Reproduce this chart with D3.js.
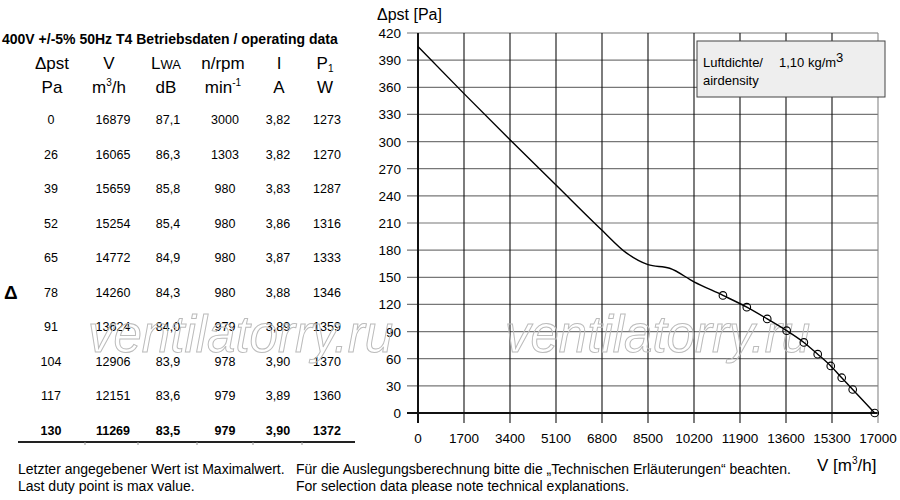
<!DOCTYPE html>
<html lang="de">
<head>
<meta charset="UTF-8">
<title>Kennlinie</title>
<script src="https://cdn.jsdelivr.net/npm/d3@7"></script>
<style>
  html, body { margin: 0; padding: 0; background: #fff; }
  svg { display: block; font-family: "Liberation Sans", Arial, sans-serif; }
</style>
</head>
<body>
<svg id="chart" width="900" height="500"></svg>
<script>
// Betriebsdaten (Tabelle)
const pst = [0, 26, 39, 52, 65, 78, 91, 104, 117, 130];
const volume = [16879, 16065, 15659, 15254, 14772, 14260, 13624, 12906, 12151, 11269];
const lwa = [87.1, 86.3, 85.8, 85.4, 84.9, 84.3, 84.0, 83.9, 83.6, 83.5];
const rpm = [3000, 1303, 980, 980, 980, 980, 979, 978, 979, 979];
const current = [3.82, 3.82, 3.83, 3.86, 3.87, 3.88, 3.89, 3.90, 3.89, 3.90];
const power = [1273, 1270, 1287, 1316, 1333, 1346, 1359, 1370, 1360, 1372];

// Kennlinie oberhalb des letzten Betriebspunktes
const curveV = [0, 1700, 3400, 5100, 6800, 7700, 8500, 9300, 10200];
const curveP = [405, 353, 302, 252, 202, 177, 164, 160, 145];

// Achsen
const xTicks = [0, 1700, 3400, 5100, 6800, 8500, 10200, 11900, 13600, 15300, 17000];
const yTicks = [0, 30, 60, 90, 120, 150, 180, 210, 240, 270, 300, 330, 360, 390, 420];

const svg = d3.select('#chart');
const comma = v => String(v).replace('.', ',');

// ---------- Tabelle ----------
const headX = [52, 109, 166, 223, 279, 325];
const colX = [51, 113, 168, 225, 278, 327];

svg.append('text')
  .attr('x', 2).attr('y', 44)
  .style('font-size', '14px').style('font-weight', 'bold')
  .text('400V +/-5% 50Hz T4 Betriebsdaten / operating data');

const h1 = svg.append('g').style('font-size', '17px').attr('text-anchor', 'middle');
h1.append('text').attr('x', headX[0]).attr('y', 69).text('Δpst');
h1.append('text').attr('x', headX[1]).attr('y', 69).text('V');
const lw = h1.append('text').attr('x', headX[2]).attr('y', 69);
lw.append('tspan').text('L');
lw.append('tspan').style('font-size', '13px').text('WA');
h1.append('text').attr('x', headX[3]).attr('y', 69).text('n/rpm');
h1.append('text').attr('x', headX[4]).attr('y', 69).text('I');
const p1 = h1.append('text').attr('x', headX[5]).attr('y', 69);
p1.append('tspan').text('P');
p1.append('tspan').style('font-size', '10px').attr('dy', 3).text('1');

h1.append('text').attr('x', headX[0]).attr('y', 93).text('Pa');
const m3 = h1.append('text').attr('x', headX[1]).attr('y', 93);
m3.append('tspan').text('m');
m3.append('tspan').style('font-size', '10px').attr('dy', -7).text('3');
m3.append('tspan').attr('dy', 7).text('/h');
h1.append('text').attr('x', headX[2]).attr('y', 93).text('dB');
const mn = h1.append('text').attr('x', headX[3]).attr('y', 93);
mn.append('tspan').text('min');
mn.append('tspan').style('font-size', '10px').attr('dy', -7).text('-1');
h1.append('text').attr('x', headX[4]).attr('y', 93).text('A');
h1.append('text').attr('x', headX[5]).attr('y', 93).text('W');

const rowY = d3.scaleLinear().domain([0, pst.length - 1]).range([124, 435]);
const rows = svg.append('g').style('font-size', '12.5px').attr('text-anchor', 'middle');
pst.forEach((p, i) => {
  const cells = [p, volume[i], comma(lwa[i].toFixed(1)), rpm[i], comma(current[i].toFixed(2)), power[i]];
  cells.forEach((c, j) => {
    rows.append('text')
      .attr('x', colX[j]).attr('y', rowY(i))
      .style('font-weight', i === pst.length - 1 ? 'bold' : 'normal')
      .text(c);
  });
});

svg.append('line')
  .attr('x1', 18).attr('x2', 355).attr('y1', 442).attr('y2', 442)
  .attr('stroke', '#222').attr('stroke-width', 2);
svg.append('g').selectAll('line')
  .data([85, 138, 197, 253, 302])
  .enter().append('line')
  .attr('x1', d => d).attr('x2', d => d)
  .attr('y1', 442).attr('y2', 445)
  .attr('stroke', '#999').attr('stroke-width', 1);

svg.append('text')
  .attr('x', 4).attr('y', 299)
  .style('font-size', '19px').style('font-weight', 'bold')
  .text('Δ');

// ---------- Diagramm ----------
const x = d3.scaleLinear().domain([0, 17000]).range([418, 878]);
const y = d3.scaleLinear().domain([0, 420]).range([413, 33]);

const grid = svg.append('g');
grid.selectAll('.hgrid')
  .data(yTicks)
  .enter().append('line')
  .attr('x1', 407).attr('x2', x(17000))
  .attr('y1', d => y(d)).attr('y2', d => y(d))
  .attr('stroke', d => d === 0 ? '#111' : '#777')
  .attr('stroke-width', d => d === 0 ? 2 : 1.2);

grid.selectAll('.vgrid')
  .data(xTicks)
  .enter().append('line')
  .attr('x1', d => x(d)).attr('x2', d => x(d))
  .attr('y1', y(420)).attr('y2', 423)
  .attr('stroke', d => d === 17000 ? '#888' : '#111')
  .attr('stroke-width', d => d === 0 ? 2 : 1.1);

svg.append('g').selectAll('text')
  .data(yTicks)
  .enter().append('text')
  .attr('x', 401).attr('y', d => y(d) + 5)
  .attr('text-anchor', 'end')
  .style('font-size', '13.5px')
  .text(d => d);

svg.append('g').selectAll('text')
  .data(xTicks)
  .enter().append('text')
  .attr('x', d => x(d)).attr('y', 443)
  .attr('text-anchor', 'middle')
  .style('font-size', '13.5px')
  .text(d => d);

// Wasserzeichen
[[88, 352], [505, 352]].forEach(([wx, wy]) => {
  svg.append('text')
    .attr('x', wx).attr('y', wy)
    .style('font-size', '51px').style('font-style', 'italic')
    .attr('fill', 'none').attr('stroke', '#bbb').attr('stroke-width', 1)
    .text('ventilatorry.ru');
});

// Kennlinie
const pts = curveV.map((v, i) => [v, curveP[i]])
  .concat(volume.map((v, i) => [v, pst[i]]).sort((a, b) => a[0] - b[0]));

const line = d3.line()
  .x(d => x(d[0]))
  .y(d => y(d[1]))
  .curve(d3.curveMonotoneX);

svg.append('path')
  .datum(pts)
  .attr('d', line)
  .attr('fill', 'none')
  .attr('stroke', '#000')
  .attr('stroke-width', 1.4);

svg.append('g').selectAll('circle')
  .data(volume)
  .enter().append('circle')
  .attr('cx', d => x(d))
  .attr('cy', (d, i) => y(pst[i]))
  .attr('r', 3.8)
  .attr('fill', 'none')
  .attr('stroke', '#000')
  .attr('stroke-width', 1.1);

// Legende Luftdichte
svg.append('rect')
  .attr('x', 697).attr('y', 41).attr('width', 188).attr('height', 56)
  .attr('fill', '#eeeeee').attr('stroke', '#444').attr('stroke-width', 1);
const lg = svg.append('g').style('font-size', '13px');
lg.append('text').attr('x', 703).attr('y', 67).text('Luftdichte/');
const dens = lg.append('text').attr('x', 779).attr('y', 67);
dens.append('tspan').text('1,10 kg/m');
dens.append('tspan').attr('dy', -5).text('3');
lg.append('text').attr('x', 703).attr('y', 85).text('airdensity');

// Achsentitel
svg.append('text')
  .attr('x', 377).attr('y', 20)
  .style('font-size', '16px')
  .text('Δpst [Pa]');
const xt = svg.append('text')
  .attr('x', 817).attr('y', 471)
  .style('font-size', '17px');
xt.append('tspan').text('V [m');
xt.append('tspan').style('font-size', '10px').attr('dy', -7).text('3');
xt.append('tspan').attr('dy', 7).text('/h]');

// Fußnoten
const foot = svg.append('g').style('font-size', '14px');
foot.append('text').attr('x', 18).attr('y', 474).text('Letzter angegebener Wert ist Maximalwert.');
foot.append('text').attr('x', 18).attr('y', 491).text('Last duty point is max value.');
foot.append('text').attr('x', 296).attr('y', 474).text('Für die Auslegungsberechnung bitte die „Technischen Erläuterungen“ beachten.');
foot.append('text').attr('x', 296).attr('y', 491).text('For selection data please note technical explanations.');
</script>
</body>
</html>
